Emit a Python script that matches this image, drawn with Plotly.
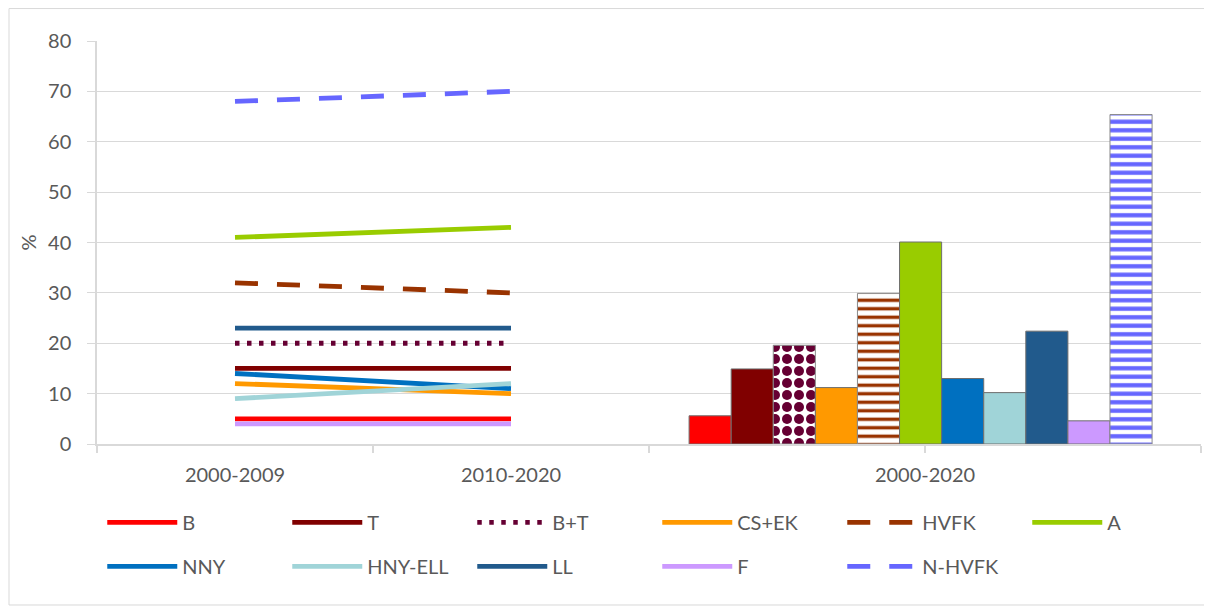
import plotly.graph_objects as go

# ---- data ----
periods = ["2000-2009", "2010-2020"]
total_period = "2000-2020"
series = ["B", "T", "B+T", "CS+EK", "HVFK", "A", "NNY", "HNY-ELL", "LL", "F", "N-HVFK"]
val_2000_2009 = [5, 15, 20, 12, 32, 41, 14, 9, 23, 4, 68]
val_2010_2020 = [5, 15, 20, 10, 30, 43, 11, 12, 23, 4, 70]
val_2000_2020 = [5.6, 14.9, 19.6, 11.2, 29.9, 40.1, 13.0, 10.2, 22.4, 4.6, 65.4]
y_ticks = [0, 10, 20, 30, 40, 50, 60, 70, 80]

# ---- styles ----
colors = ["#FF0000", "#800000", "#660033", "#FF9900", "#993300", "#99CC00",
          "#0070C0", "#A0D4D8", "#215A8C", "#CC99FF", "#6666FF"]
dashes = ["solid", "solid", "4.5px,7.5px", "solid", "23px,19px", "solid",
          "solid", "solid", "solid", "solid", "23px,19px"]
legend_of = ["legend", "legend", "legend", "legend", "legend", "legend3",
             "legend2", "legend2", "legend2", "legend2", "legend2"]
patterns = ["", "", ".", "", "-", "", "", "", "", "", "-"]
pat_size = [8, 8, 12, 8, 8.5, 8, 8, 8, 8, 8, 8.5]
pat_solid = [0.3, 0.3, 0.55, 0.3, 0.4, 0.3, 0.3, 0.3, 0.3, 0.3, 0.5]

FONT = "Lato, 'Open Sans', sans-serif"
GREY_TXT = "#595959"
GRID = "#D9D9D9"
FS = 20

fig = go.Figure()

x_line = [i + 0.5 for i in range(len(periods))]
for i, name in enumerate(series):
    fig.add_trace(go.Scatter(
        x=x_line, y=[val_2000_2009[i], val_2010_2020[i]],
        mode="lines", name=name,
        line=dict(color=colors[i], width=4.8, dash=dashes[i]),
        legend=legend_of[i],
        hoverinfo="name+y",
    ))

# bars: cluster centred on the "2000-2020" slot
n = len(series)
bw = 0.1525
bar_center = len(periods) + 1 - 0.016
for i, name in enumerate(series):
    marker = dict(color=colors[i], line=dict(color="#6E6E6E", width=1))
    if patterns[i]:
        marker = dict(color="white", line=dict(color="#8A8A8A", width=1),
                      pattern=dict(shape=patterns[i], fgcolor=colors[i], bgcolor="white",
                                   fillmode="replace",
                                   size=pat_size[i], solidity=pat_solid[i]))
    fig.add_trace(go.Bar(
        x=[bar_center + (i - (n - 1) / 2) * bw], y=[val_2000_2020[i]], width=bw,
        name=name, marker=marker, showlegend=False, hoverinfo="name+y",
    ))

leg_common = dict(orientation="h", xanchor="left", yanchor="top",
                  entrywidth=100, entrywidthmode="pixels", itemwidth=70,
                  font=dict(size=FS, color=GREY_TXT), bgcolor="rgba(0,0,0,0)",
                  itemclick=False, itemdoubleclick=False)
lx = 0.041 - 40 / 1104

fig.update_layout(
    width=1204, height=598,
    margin=dict(l=89, r=11, t=33, b=162, autoexpand=False),
    paper_bgcolor="white", plot_bgcolor="white",
    font=dict(family=FONT, size=FS, color=GREY_TXT),
    showlegend=True,
    barmode="overlay",
    legend=dict(x=lx, y=-0.146, **leg_common),
    legend2=dict(x=lx, y=-0.2555, **leg_common),
    legend3=dict(x=lx + 5 * 185 / 1104, y=-0.146, **leg_common),
)

fig.update_xaxes(
    range=[0, 4], tickvals=x_line + [len(periods) + 1],
    ticktext=periods + [total_period],
    ticks="", showgrid=False, zeroline=False, automargin=False,
    showline=True, linecolor=GRID, linewidth=1.5,
    tickfont=dict(size=FS, color=GREY_TXT), ticklabelstandoff=12,
    minor=dict(tickvals=[0, 1, 2, 3, 4], ticks="outside", ticklen=7,
               tickcolor=GRID, tickwidth=1.5, showgrid=False),
)
fig.update_yaxes(
    range=[0, 80], tickvals=y_ticks, automargin=False,
    showgrid=True, gridcolor=GRID, gridwidth=1.3,
    zeroline=False, showline=True, linecolor=GRID, linewidth=1.5,
    ticks="outside", ticklen=8, tickcolor=GRID, tickwidth=1.3,
    tickfont=dict(size=FS, color=GREY_TXT), ticklabelstandoff=12,
    title=dict(text="%", font=dict(size=FS, color=GREY_TXT), standoff=6),
)

# chart-area border
fig.add_shape(type="rect", xref="paper", yref="paper",
              x0=-0.0797, x1=1.0036, y0=-0.3995, y1=1.0805,
              line=dict(color=GRID, width=1), fillcolor="rgba(0,0,0,0)", layer="below")

fig.write_html("out.html")
